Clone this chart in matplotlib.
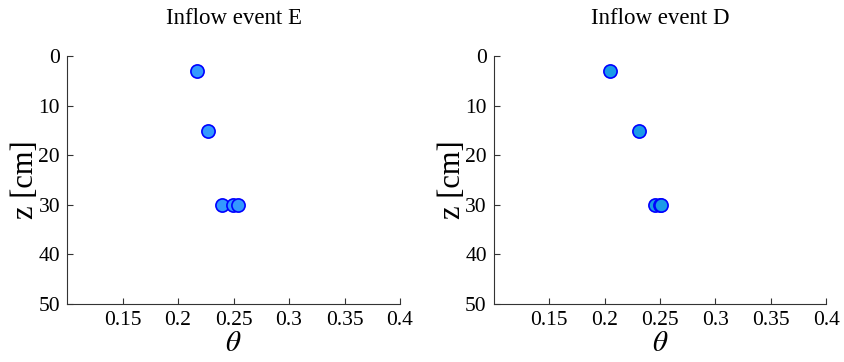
import matplotlib
matplotlib.use("Agg")
import matplotlib.pyplot as plt

titles = ["Inflow event E", "Inflow event D"]
theta_E = [0.2175, 0.2272, 0.2392, 0.2494, 0.2539]
z_E = [3, 15, 30, 30, 30]
theta_D = [0.2048, 0.2313, 0.2452, 0.2497, 0.2510]
z_D = [3, 15, 30, 30, 30]
xticks = [0.15, 0.2, 0.25, 0.3, 0.35, 0.4]
xticklabels = ["0.15", "0.2", "0.25", "0.3", "0.35", "0.4"]
yticks = [0, 10, 20, 30, 40, 50]

plt.rcParams['font.family'] = ['Liberation Serif', 'DejaVu Serif']
plt.rcParams['mathtext.fontset'] = 'stix'

fig = plt.figure(figsize=(8.44, 3.62), dpi=100)
positions = [[0.0794, 0.160, 0.3946, 0.685], [0.585, 0.160, 0.394, 0.685]]
datasets = [(theta_E, z_E, '#3399ff'), (theta_D, z_D, '#1a9be8')]

for pos, title, (th, z, fc) in zip(positions, titles, datasets):
    ax = fig.add_axes(pos)
    ax.plot(th, z, 'o', linestyle='none', markersize=9.5,
            markerfacecolor=fc, markeredgecolor='#0000ff', markeredgewidth=1.2)
    ax.set_xlim(0.1, 0.4)
    ax.set_ylim(50, 0)
    ax.set_xticks(xticks)
    ax.set_xticklabels(xticklabels)
    ax.set_yticks(yticks)
    ax.spines['top'].set_visible(False)
    ax.spines['right'].set_visible(False)
    ax.spines['left'].set_color('#333333')
    ax.spines['bottom'].set_color('#333333')
    ax.tick_params(direction='in', length=4, labelsize=15.5, color='#333333', pad=5)
    ax.set_xlabel(r'$\theta$', fontsize=21, labelpad=1)
    ax.set_ylabel('z [cm]', fontsize=22, labelpad=-1)
    ax.set_title(title, fontsize=16.5, pad=23)

fig.savefig('out.png', dpi=100)
